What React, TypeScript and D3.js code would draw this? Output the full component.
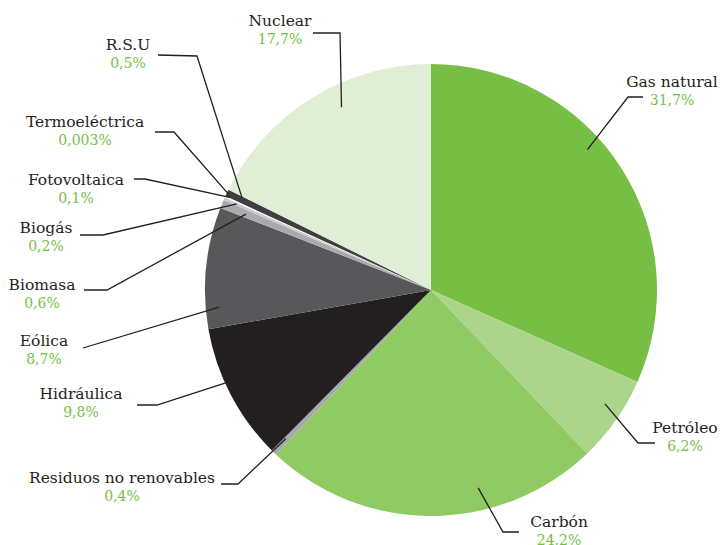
import React from "react";
import * as d3 from "d3";

const categories = [
  "Gas natural",
  "Petróleo",
  "Carbón",
  "Residuos no renovables",
  "Hidráulica",
  "Eólica",
  "Biomasa",
  "Biogás",
  "Fotovoltaica",
  "Termoeléctrica",
  "R.S.U",
  "Nuclear",
];
const values = [31.7, 6.2, 24.2, 0.4, 9.8, 8.7, 0.6, 0.2, 0.1, 0.003, 0.5, 17.7];
const valueLabels = ["31,7%", "6,2%", "24,2%", "0,4%", "9,8%", "8,7%", "0,6%", "0,2%", "0,1%", "0,003%", "0,5%", "17,7%"];
const colors = [
  "#77be44",
  "#acd58b",
  "#8fca63",
  "#a7a8ab",
  "#231f20",
  "#58585a",
  "#a9aaad",
  "#c9cacc",
  "#ffffff",
  "#ffffff",
  "#3f3f41",
  "#e0eed6",
];

// annotation layout: label centre x, name baseline y, leader start, elbow, target (polar: angle deg, radius fraction)
const labelX = [672, 685, 559, 122, 81, 44, 42, 46, 76, 85, 128, 280];
const labelY = [87, 433, 527, 483, 399, 346, 290, 233, 185, 127, 50, 26];
const leadStart: [number, number][] = [
  [643, 97], [655, 443], [519, 532], [221, 484], [137, 405], [83, 348],
  [84, 290], [80, 235], [134, 179], [155, 132], [158, 55], [313, 33],
];
const leadElbow: ([number, number] | null)[] = [
  [628, 97], [638, 443], [503, 532], [238, 484], [157, 405], null,
  [107, 290], [103, 235], [145, 179], [174, 132], [197, 56], [340, 33],
];
const leadTarget: [number, number][] = [
  [48.1, 0.93], [123.2, 0.92], [166.6, 0.9], [224.3, 0.92], [245.6, 0.99], [265.4, 0.94],
  [292.3, 0.885], [293.9, 0.94], [294.7, 0.98], [295.3, 0.99], [296, 0.93], [333.9, 0.9],
];

const W = 720;
const H = 545;
const cx = 431;
const cy = 290;
const R = 226;
const FONT = "'DejaVu Serif', serif";

export default function App() {
  const pie = d3
    .pie<number>()
    .sort(null)
    .value((d) => d)
    .startAngle(0)
    .endAngle(2 * Math.PI);
  const arcs = pie(values);
  const arc = d3.arc<d3.PieArcDatum<number>>().innerRadius(0).outerRadius(R);
  const rScale = d3.scaleLinear().domain([0, 1]).range([0, R]);
  const toXY = (deg: number, f: number): [number, number] => {
    const a = (deg * Math.PI) / 180;
    const r = rScale(f);
    return [cx + r * Math.sin(a), cy - r * Math.cos(a)];
  };
  const line = d3.line();

  return (
    <svg
      width={W}
      height={H}
      style={{ position: "absolute", left: 0, top: 0, background: "#fff" }}
    >
      <g transform={`translate(${cx},${cy})`}>
        {arcs.map((a, i) => (
          <path key={i} d={arc(a) || ""} fill={colors[i]} />
        ))}
      </g>
      {categories.map((c, i) => {
        const pts: [number, number][] = [leadStart[i]];
        if (leadElbow[i]) pts.push(leadElbow[i] as [number, number]);
        pts.push(toXY(leadTarget[i][0], leadTarget[i][1]));
        return (
          <path
            key={"l" + i}
            d={line(pts) || ""}
            fill="none"
            stroke="#231f20"
            strokeWidth={1.3}
          />
        );
      })}
      {categories.map((c, i) => (
        <g key={"t" + i}>
          <text
            x={labelX[i]}
            y={labelY[i]}
            textAnchor="middle"
            style={{ fontFamily: FONT, fontSize: "15.5px" }}
            fill="#231f20"
          >
            {c}
          </text>
          <text
            x={labelX[i]}
            y={labelY[i] + 18}
            textAnchor="middle"
            style={{ fontFamily: FONT, fontSize: "14px" }}
            fill="#77be44"
          >
            {valueLabels[i]}
          </text>
        </g>
      ))}
    </svg>
  );
}
